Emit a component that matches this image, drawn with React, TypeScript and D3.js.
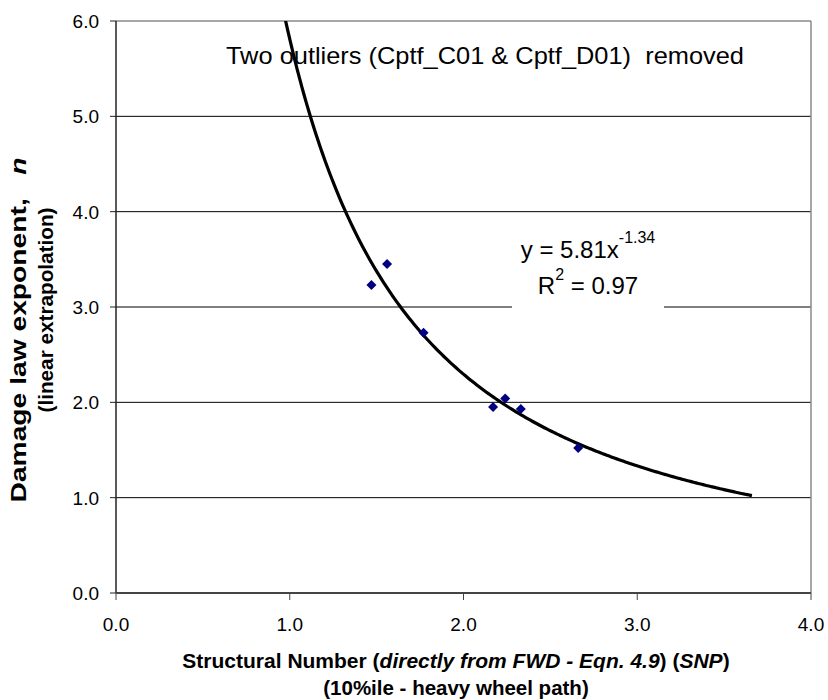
import React from 'react';
import * as d3 from 'd3';

const snp = [1.47, 1.56, 1.77, 2.17, 2.24, 2.33, 2.66];
const exponentN = [3.23, 3.45, 2.73, 1.95, 2.04, 1.93, 1.52];
const xTicks = [0, 1, 2, 3, 4];
const yTicks = [0, 1, 2, 3, 4, 5, 6];
const trendA = 5.81;
const trendB = -1.34;
const trendXMin = 0.976;
const trendXMax = 3.66;

const W = 828;
const H = 700;
const M = { left: 116, right: 811, top: 21, bottom: 593 };
const FONT = "'Liberation Sans', Arial, sans-serif";

export default function App() {
  const x = d3.scaleLinear().domain([0, 4]).range([M.left, M.right]);
  const y = d3.scaleLinear().domain([0, 6]).range([M.bottom, M.top]);

  const trendXs = d3.range(trendXMin, trendXMax + 1e-9, (trendXMax - trendXMin) / 200);
  const trendPts: [number, number][] = trendXs.map((v) => [v, trendA * Math.pow(v, trendB)]);
  const line = d3
    .line<[number, number]>()
    .x((d) => x(d[0]))
    .y((d) => y(d[1]))
    .curve(d3.curveMonotoneX);

  const diamond = (cx: number, cy: number, r: number) =>
    `M${cx},${cy - r}L${cx + r},${cy}L${cx},${cy + r}L${cx - r},${cy}Z`;

  return (
    <svg
      width={W}
      height={H}
      style={{ position: 'absolute', left: 0, top: 0, background: '#fff' }}
      fontFamily={FONT}
    >
      <rect x={0} y={0} width={W} height={H} fill="#fff" />
      <defs>
        <clipPath id="plotClip">
          <rect x={M.left} y={M.top} width={M.right - M.left} height={M.bottom - M.top} />
        </clipPath>
      </defs>

      {/* gridlines */}
      {yTicks
        .filter((t) => t > 0 && t < 6)
        .map((t) => (
          <line key={'g' + t} x1={M.left} x2={M.right} y1={y(t)} y2={y(t)} stroke="#000" strokeWidth={1} />
        ))}
      {/* top and right border */}
      <line x1={M.left} x2={M.right} y1={y(6)} y2={y(6)} stroke="#8a8a8a" strokeWidth={1.5} />
      <line x1={M.right} x2={M.right} y1={M.top} y2={M.bottom} stroke="#8a8a8a" strokeWidth={1.5} />

      {/* equation label box */}
      <rect x={512} y={228} width={152} height={84} fill="#fff" />

      {/* trendline */}
      <path d={line(trendPts) || ''} fill="none" stroke="#000" strokeWidth={3.2} clipPath="url(#plotClip)" />

      {/* points */}
      {snp.map((v, i) => (
        <path key={'p' + i} d={diamond(x(v), y(exponentN[i]), 5)} fill="#000080" />
      ))}

      {/* axes */}
      <line x1={M.left} x2={M.left} y1={M.top} y2={M.bottom} stroke="#222" strokeWidth={1.5} />
      <line x1={M.left} x2={M.right} y1={M.bottom} y2={M.bottom} stroke="#444" strokeWidth={2} />
      {yTicks.map((t) => (
        <g key={'yt' + t}>
          <line x1={M.left - 6} x2={M.left} y1={y(t)} y2={y(t)} stroke="#222" strokeWidth={1} />
          <text x={99} y={y(t) + 7} textAnchor="end" fontSize={19} fill="#000">
            {t.toFixed(1)}
          </text>
        </g>
      ))}
      {xTicks.map((t) => (
        <g key={'xt' + t}>
          <line x1={x(t)} x2={x(t)} y1={M.bottom} y2={M.bottom + 7} stroke="#444" strokeWidth={1} />
          <text x={x(t)} y={631} textAnchor="middle" fontSize={19} fill="#000">
            {t.toFixed(1)}
          </text>
        </g>
      ))}

      {/* annotation */}
      <text
        x={226}
        y={64}
        fontSize={24.5}
        fill="#000"
        style={{ whiteSpace: 'pre' }}
        textLength={518}
        lengthAdjust="spacingAndGlyphs"
      >
        {'Two outliers (Cptf_C01 & Cptf_D01)  removed'}
      </text>

      {/* equation */}
      <text x={588} y={258} textAnchor="middle" fontSize={24} fill="#000">
        <tspan>y = 5.81x</tspan>
        <tspan fontSize={16} dy={-15}>-1.34</tspan>
      </text>
      <text x={588} y={294} textAnchor="middle" fontSize={24} fill="#000">
        <tspan>R</tspan>
        <tspan fontSize={16} dy={-14}>2</tspan>
        <tspan dy={14}> = 0.97</tspan>
      </text>

      {/* x axis title */}
      <text x={456} y={668} textAnchor="middle" fontSize={21} fontWeight="bold" fill="#000">
        <tspan>Structural Number (</tspan>
        <tspan fontStyle="italic">directly from FWD - Eqn. 4.9</tspan>
        <tspan>) (</tspan>
        <tspan fontStyle="italic">SNP</tspan>
        <tspan>)</tspan>
      </text>
      <text x={456} y={695} textAnchor="middle" fontSize={20.5} fontWeight="bold" fill="#000">
        (10%ile - heavy wheel path)
      </text>

      {/* y axis title */}
      <text
        transform="translate(26,330) rotate(-90)"
        textAnchor="middle"
        fontSize={22}
        fontWeight="bold"
        fill="#000"
        style={{ whiteSpace: 'pre' }}
        textLength={345}
        lengthAdjust="spacingAndGlyphs"
      >
        <tspan>{'Damage law exponent,   '}</tspan>
        <tspan fontStyle="italic">n</tspan>
      </text>
      <text
        transform="translate(53,310) rotate(-90)"
        textAnchor="middle"
        fontSize={21}
        fontWeight="bold"
        fill="#000"
        textLength={205}
        lengthAdjust="spacingAndGlyphs"
      >
        (linear extrapolation)
      </text>
    </svg>
  );
}
